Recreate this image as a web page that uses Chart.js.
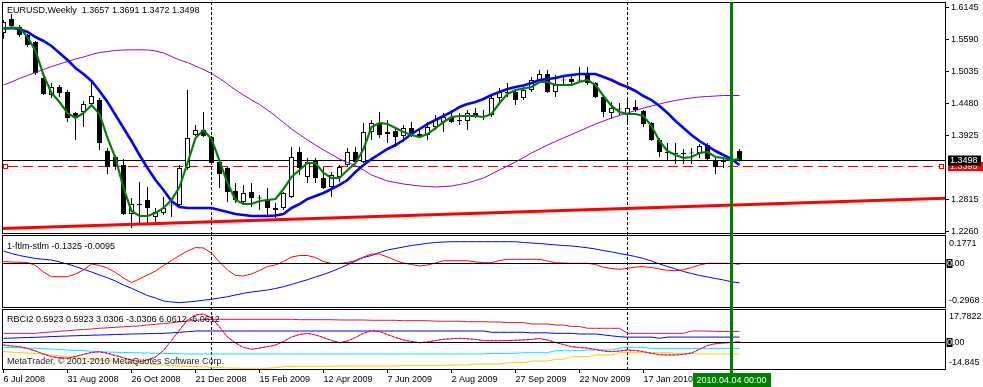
<!DOCTYPE html>
<html>
<head>
<meta charset="utf-8">
<script src="https://cdn.jsdelivr.net/npm/chart.js@4.4.1/dist/chart.umd.min.js"></script>
<style>
  html, body { margin: 0; padding: 0; background: #fff; }
</style>
</head>
<body>
<canvas id="grafica" width="983" height="387"></canvas>
<script>
// EURUSD semanal (captura de MetaTrader) con dos osciladores debajo

const simbolo = 'EURUSD,Weekly';

// Velas semanales, desde la semana del 6 Jul 2008
const aperturas = [
  1.5703, 1.5946, 1.5807, 1.5668, 1.5547, 1.4922, 1.4627, 1.4766, 1.4679, 1.4315,
  1.4333, 1.4471, 1.4541, 1.3656, 1.3552, 1.3413, 1.2564, 1.2737, 1.2806, 1.2512,
  1.2581, 1.2711, 1.2720, 1.3361, 1.3934, 1.4021, 1.3899, 1.3465, 1.3361, 1.2963,
  1.2772, 1.2945, 1.2841, 1.2806, 1.2668, 1.2668, 1.2859, 1.3639, 1.3205, 1.3500,
  1.3188, 1.3032, 1.3205, 1.3413, 1.3639, 1.3465, 1.3986, 1.4142, 1.3951, 1.4003,
  1.3916, 1.4055, 1.3951, 1.3934, 1.4073, 1.4159, 1.4246, 1.4185, 1.4177, 1.4315,
  1.4246, 1.4281, 1.4575, 1.4679, 1.4679, 1.4575, 1.4714, 1.4888, 1.4992, 1.4679,
  1.4888, 1.4905, 1.4879, 1.4974, 1.4836, 1.4593, 1.4315, 1.4385, 1.4281, 1.4419,
  1.4350, 1.4142, 1.3847, 1.3639, 1.3622, 1.3604, 1.3613, 1.3622, 1.3760, 1.3500,
  1.3465, 1.3510, 1.3657
];
const maximos = [
  1.5928, 1.6032, 1.5841, 1.5685, 1.5564, 1.5009, 1.4836, 1.4801, 1.4714, 1.4333,
  1.4523, 1.4853, 1.4575, 1.3708, 1.3587, 1.3517, 1.2841, 1.3119, 1.3032, 1.2668,
  1.2859, 1.2841, 1.3413, 1.4714, 1.4107, 1.4333, 1.3916, 1.3500, 1.3379, 1.3101,
  1.3067, 1.3101, 1.2893, 1.3014, 1.2754, 1.2945, 1.3726, 1.3726, 1.3535, 1.3535,
  1.3379, 1.3292, 1.3413, 1.3708, 1.3726, 1.4142, 1.4194, 1.4333, 1.4194, 1.4038,
  1.4107, 1.4159, 1.4021, 1.4159, 1.4281, 1.4315, 1.4367, 1.4315, 1.4367, 1.4402,
  1.4367, 1.4627, 1.4749, 1.4836, 1.4714, 1.4766, 1.4940, 1.5061, 1.5061, 1.4974,
  1.4974, 1.4992, 1.5113, 1.5113, 1.4853, 1.4627, 1.4506, 1.4489, 1.4575, 1.4541,
  1.4367, 1.4159, 1.3882, 1.3795, 1.3795, 1.3691, 1.3708, 1.3778, 1.3795, 1.3535,
  1.3552, 1.3550, 1.3691
];
const minimos = [
  1.5599, 1.5789, 1.5633, 1.5460, 1.4974, 1.4627, 1.4575, 1.4593, 1.4159, 1.3847,
  1.4072, 1.4454, 1.3674, 1.3257, 1.3327, 1.2546, 1.2321, 1.2408, 1.2408, 1.2425,
  1.2546, 1.2512, 1.2685, 1.3327, 1.3916, 1.3899, 1.3431, 1.3014, 1.2772, 1.2754,
  1.2754, 1.2685, 1.2633, 1.2546, 1.2494, 1.2633, 1.2841, 1.3240, 1.3101, 1.3101,
  1.2997, 1.2859, 1.3119, 1.3379, 1.3448, 1.3448, 1.3847, 1.3882, 1.3795, 1.3726,
  1.3812, 1.3899, 1.3882, 1.3847, 1.4021, 1.3986, 1.4142, 1.4107, 1.4021, 1.4228,
  1.4194, 1.4246, 1.4506, 1.4593, 1.4454, 1.4541, 1.4679, 1.4836, 1.4662, 1.4593,
  1.4801, 1.4818, 1.4836, 1.4801, 1.4575, 1.4246, 1.4211, 1.4281, 1.4159, 1.4333,
  1.4072, 1.3830, 1.3552, 1.3500, 1.3431, 1.3431, 1.3431, 1.3535, 1.3500, 1.3257,
  1.3361, 1.3270, 1.3472
];
const cierres = [
  1.5894, 1.5824, 1.5668, 1.5495, 1.5009, 1.4645, 1.4766, 1.4662, 1.4228, 1.4228,
  1.4471, 1.4610, 1.3795, 1.3379, 1.3396, 1.2564, 1.2737, 1.2720, 1.2668, 1.2598,
  1.2668, 1.2720, 1.3361, 1.3882, 1.4021, 1.3916, 1.3448, 1.3257, 1.2945, 1.2806,
  1.2928, 1.2841, 1.2832, 1.2668, 1.2633, 1.2928, 1.3552, 1.3361, 1.3465, 1.3188,
  1.3014, 1.3240, 1.3379, 1.3639, 1.3465, 1.3986, 1.4142, 1.3934, 1.3986, 1.3899,
  1.4055, 1.3951, 1.3899, 1.4073, 1.4194, 1.4246, 1.4159, 1.4177, 1.4315, 1.4246,
  1.4263, 1.4575, 1.4679, 1.4662, 1.4541, 1.4714, 1.4888, 1.4992, 1.4679, 1.4801,
  1.4879, 1.4853, 1.4888, 1.4836, 1.4593, 1.4333, 1.4402, 1.4376, 1.4402, 1.4367,
  1.4124, 1.3847, 1.3639, 1.3622, 1.3604, 1.3613, 1.3622, 1.3743, 1.3517, 1.3379,
  1.3500, 1.3490, 1.3498
];

// Medias móviles del panel principal
const mediaAzul = [
  1.5781, 1.5789, 1.5772, 1.5720, 1.5633, 1.5564, 1.5477, 1.5356, 1.5234, 1.5096,
  1.4992, 1.4870, 1.4697, 1.4506, 1.4281, 1.4055, 1.3830, 1.3587, 1.3361, 1.3153,
  1.2980, 1.2789, 1.2685, 1.2668, 1.2668, 1.2668, 1.2668, 1.2633, 1.2598, 1.2564,
  1.2546, 1.2529, 1.2529, 1.2529, 1.2538, 1.2564, 1.2668, 1.2737, 1.2824, 1.2876,
  1.2928, 1.2997, 1.3067, 1.3153, 1.3292, 1.3413, 1.3517, 1.3604, 1.3691, 1.3760,
  1.3847, 1.3951, 1.4038, 1.4124, 1.4194, 1.4263, 1.4333, 1.4419, 1.4471, 1.4506,
  1.4558, 1.4627, 1.4679, 1.4731, 1.4766, 1.4792, 1.4836, 1.4888, 1.4905, 1.4922,
  1.4957, 1.4974, 1.4992, 1.4992, 1.4992, 1.4940, 1.4888, 1.4818, 1.4766, 1.4697,
  1.4610, 1.4541, 1.4437, 1.4315, 1.4177, 1.4055, 1.3934, 1.3830, 1.3743, 1.3656,
  1.3587, 1.3517, 1.3413
];
const mediaVerde = [
  1.5772, 1.5795, 1.5789, 1.5633, 1.5391, 1.4974, 1.4662, 1.4506, 1.4315, 1.4228,
  1.4315, 1.4454, 1.4298, 1.3882, 1.3535, 1.3014, 1.2616, 1.2529, 1.2529, 1.2581,
  1.2668, 1.2806, 1.3032, 1.3448, 1.3882, 1.4020, 1.3864, 1.3483, 1.3101, 1.2806,
  1.2737, 1.2737, 1.2789, 1.2806, 1.2824, 1.2997, 1.3205, 1.3327, 1.3448, 1.3448,
  1.3275, 1.3188, 1.3188, 1.3327, 1.3448, 1.3691, 1.4072, 1.4142, 1.4124, 1.4055,
  1.3986, 1.3934, 1.3899, 1.3951, 1.4055, 1.4159, 1.4246, 1.4263, 1.4263, 1.4263,
  1.4246, 1.4298, 1.4489, 1.4645, 1.4714, 1.4740, 1.4766, 1.4853, 1.4853, 1.4801,
  1.4801, 1.4801, 1.4853, 1.4888, 1.4801, 1.4610, 1.4437, 1.4333, 1.4298, 1.4298,
  1.4263, 1.4090, 1.3830, 1.3656, 1.3587, 1.3535, 1.3552, 1.3622, 1.3639, 1.3552,
  1.3535, 1.3500, 1.3517
];
const mediaMorada = [
  1.4801, 1.4853, 1.4914, 1.4966, 1.5018, 1.5070, 1.5122, 1.5165, 1.5208, 1.5252,
  1.5286, 1.5330, 1.5364, 1.5382, 1.5399, 1.5408, 1.5411, 1.5411, 1.5408, 1.5391,
  1.5356, 1.5295, 1.5234, 1.5191, 1.5130, 1.5070, 1.5000, 1.4914, 1.4818, 1.4714,
  1.4627, 1.4541, 1.4463, 1.4367, 1.4263, 1.4151, 1.4038, 1.3942, 1.3847, 1.3760,
  1.3674, 1.3596, 1.3517, 1.3457, 1.3405, 1.3327, 1.3240, 1.3188, 1.3136, 1.3110,
  1.3084, 1.3067, 1.3049, 1.3040, 1.3032, 1.3040, 1.3049, 1.3075, 1.3101, 1.3145,
  1.3188, 1.3257, 1.3327, 1.3396, 1.3465, 1.3543, 1.3622, 1.3691, 1.3760, 1.3821,
  1.3882, 1.3942, 1.4003, 1.4064, 1.4124, 1.4177, 1.4228, 1.4272, 1.4315, 1.4359,
  1.4402, 1.4437, 1.4471, 1.4506, 1.4532, 1.4558, 1.4575, 1.4593, 1.4601, 1.4610,
  1.4619, 1.4619, 1.4619
];

// Línea de tendencia roja (dos puntos fuera de los bordes) y nivel horizontal
const tendenciaIdx = [-1, 118];
const tendenciaPrecio = [1.2310, 1.2838];
const nivelRojo = 1.3395;

// Panel 1-ftlm-stlm
const ftlmRojo = [
  0.0087, 0.0067, 0.0047, 0.0033, -0.0167, -0.0600, -0.0913, -0.0913, -0.0913, -0.0733,
  -0.0467, -0.0067, -0.0167, -0.0333, -0.0633, -0.1000, -0.1300, -0.1067, -0.0800, -0.0533,
  -0.0167, 0.0167, 0.0500, 0.0800, 0.1033, 0.1000, 0.0667, 0.0067, -0.0467, -0.0833,
  -0.0867, -0.0733, -0.0500, -0.0233, -0.0133, 0.0100, 0.0400, 0.0500, 0.0500, 0.0367,
  0.0100, -0.0033, -0.0033, 0.0033, 0.0167, 0.0400, 0.0600, 0.0600, 0.0400, 0.0167,
  0.0000, -0.0100, -0.0200, -0.0133, 0.0000, 0.0153, 0.0153, 0.0153, 0.0153, 0.0067,
  0.0020, 0.0020, 0.0167, 0.0247, 0.0247, 0.0247, 0.0247, 0.0247, 0.0133, 0.0020,
  0.0000, -0.0020, -0.0020, -0.0020, -0.0100, -0.0287, -0.0367, -0.0420, -0.0353, -0.0267,
  -0.0247, -0.0300, -0.0400, -0.0487, -0.0513, -0.0447, -0.0300, -0.0133, -0.0020, -0.0020,
  -0.0020, -0.0020, -0.0095
];
const ftlmAzul = [
  0.0800, 0.0633, 0.0500, 0.0400, 0.0300, 0.0247, 0.0200, 0.0067, -0.0067, -0.0233,
  -0.0420, -0.0600, -0.0800, -0.0987, -0.1200, -0.1467, -0.1687, -0.1933, -0.2167, -0.2333,
  -0.2533, -0.2600, -0.2647, -0.2600, -0.2547, -0.2480, -0.2420, -0.2333, -0.2247, -0.2133,
  -0.2020, -0.1933, -0.1867, -0.1800, -0.1700, -0.1580, -0.1433, -0.1267, -0.1113, -0.0933,
  -0.0767, -0.0567, -0.0353, -0.0113, 0.0133, 0.0367, 0.0500, 0.0700, 0.0867, 0.0967,
  0.1067, 0.1167, 0.1233, 0.1313, 0.1367, 0.1400, 0.1420, 0.1420, 0.1420, 0.1420,
  0.1420, 0.1420, 0.1420, 0.1420, 0.1420, 0.1367, 0.1333, 0.1300, 0.1253, 0.1207,
  0.1167, 0.1133, 0.1080, 0.1013, 0.0933, 0.0827, 0.0740, 0.0633, 0.0533, 0.0433,
  0.0300, 0.0133, -0.0067, -0.0233, -0.0400, -0.0567, -0.0700, -0.0833, -0.0933, -0.1033,
  -0.1133, -0.1253, -0.1325
];
const ftlmEtiquetas = ['0.1771', '0.00', '-0.2968'];

// Panel RBCI2: valor y bandas
const rbciValor = [
  -1.20, -1.74, -2.11, -3.07, -4.41, -6.02, -7.46, -8.00, -8.26, -7.35,
  -6.18, -5.21, -4.84, -5.64, -6.82, -8.05, -9.22, -10.13, -9.22, -7.62,
  -4.14, 1.20, 6.82, 12.17, 14.84, 15.37, 13.24, 8.42, 3.07, -0.13,
  -2.54, -3.50, -2.81, -2.11, -1.20, 0.67, 3.07, 4.41, 5.05, 4.14,
  2.81, 1.20, 0.03, 0.94, 2.81, 5.05, 6.44, 6.02, 4.41, 2.81,
  1.47, 0.67, 0.03, 0.40, 1.20, 1.84, 2.17, 2.38, 2.17, 1.74,
  1.20, 1.10, 1.10, 1.20, 1.31, 1.47, 1.74, 2.27, 1.47, 0.13,
  -0.94, -2.11, -2.54, -2.91, -3.61, -4.41, -4.79, -4.41, -3.88, -4.14,
  -4.79, -5.64, -6.39, -6.55, -6.55, -6.18, -5.48, -3.50, -1.47, -0.51,
  -0.13, 0.13, 0.5923
];
const rbciSup2 = [
  5.05, 5.05, 5.05, 5.05, 5.05, 5.48, 5.75, 6.18, 6.44, 6.82,
  7.09, 7.35, 7.73, 8.00, 8.26, 8.53, 8.80, 8.96, 9.49, 9.87,
  10.24, 10.72, 11.20, 11.63, 11.90, 12.43, 12.54, 12.54, 12.54, 12.54,
  12.54, 12.54, 12.54, 12.54, 12.54, 12.54, 12.54, 12.33, 12.33, 12.33,
  12.33, 12.33, 12.17, 12.17, 12.17, 12.17, 12.00, 12.00, 12.00, 12.00,
  11.79, 11.79, 11.79, 11.79, 11.52, 11.52, 11.52, 11.52, 11.26, 11.26,
  11.26, 11.10, 11.10, 10.75, 10.75, 10.75, 10.03, 10.03, 10.03, 9.49,
  9.49, 8.69, 8.69, 7.73, 7.73, 7.73, 7.73, 7.73, 5.05, 5.05,
  5.05, 5.05, 5.05, 5.05, 5.05, 5.05, 6.28, 6.28, 6.28, 6.06,
  6.06, 6.06, 6.0612
];
const rbciSup1 = [
  2.38, 2.50, 2.65, 2.80, 2.91, 3.10, 3.30, 3.45, 3.61, 3.75,
  3.90, 4.00, 4.14, 4.25, 4.40, 4.55, 4.68, 4.75, 4.85, 4.95,
  5.05, 5.30, 5.59, 5.90, 6.28, 6.28, 6.28, 6.28, 6.28, 6.28,
  6.28, 6.28, 6.28, 6.28, 6.28, 6.28, 6.28, 6.28, 6.28, 6.28,
  6.28, 6.28, 6.28, 6.28, 6.28, 6.28, 6.28, 6.28, 6.28, 6.28,
  6.28, 6.28, 6.28, 6.28, 6.28, 6.28, 6.28, 6.28, 6.28, 6.28,
  6.28, 5.59, 5.59, 5.59, 5.59, 5.59, 5.30, 5.30, 5.30, 5.05,
  5.05, 5.05, 4.68, 4.68, 4.68, 4.20, 3.70, 3.24, 3.00, 3.00,
  3.00, 3.00, 2.38, 3.03, 3.03, 3.03, 3.03, 3.03, 3.03, 3.03,
  3.03, 3.03, 3.0306
];
const rbciInf1 = [
  -2.43, -2.55, -2.70, -2.85, -2.97, -3.20, -3.40, -3.60, -3.88, -4.10,
  -4.30, -4.55, -4.79, -4.95, -5.10, -5.20, -5.32, -5.40, -5.50, -5.58,
  -5.64, -5.80, -5.90, -6.00, -6.02, -6.02, -6.02, -6.02, -6.02, -6.02,
  -6.02, -6.02, -6.02, -6.02, -6.02, -6.02, -6.02, -6.02, -6.02, -6.02,
  -6.02, -6.02, -6.02, -6.02, -6.02, -6.02, -6.02, -6.02, -6.02, -6.02,
  -6.02, -6.02, -6.02, -6.02, -6.02, -6.02, -6.02, -6.02, -6.02, -6.02,
  -6.02, -5.64, -5.64, -5.64, -5.64, -5.32, -5.32, -5.32, -5.32, -4.25,
  -4.25, -4.25, -4.25, -3.88, -3.88, -3.88, -3.88, -2.97, -2.43, -2.43,
  -2.43, -3.03, -3.03, -3.03, -3.03, -3.03, -3.03, -3.03, -3.03, -3.03,
  -3.03, -3.03, -3.0306
];
const rbciInf2 = [
  -4.79, -5.00, -5.30, -5.50, -5.64, -6.10, -6.60, -7.00, -7.46, -7.90,
  -8.40, -8.80, -9.22, -9.60, -10.00, -10.30, -10.67, -11.00, -11.30, -11.60,
  -11.90, -12.20, -12.50, -12.70, -12.81, -12.90, -13.10, -13.30, -13.45, -13.60,
  -13.66, -13.66, -13.66, -13.66, -13.30, -12.81, -12.60, -12.60, -12.60, -12.60,
  -12.60, -12.60, -12.43, -12.43, -12.43, -12.43, -12.43, -12.43, -12.43, -12.43,
  -12.10, -12.10, -12.10, -12.10, -12.10, -12.10, -11.90, -11.90, -11.90, -11.36,
  -11.36, -11.36, -11.36, -10.67, -10.67, -10.67, -9.80, -9.80, -9.80, -8.85,
  -8.85, -7.46, -7.46, -7.46, -6.50, -6.50, -6.50, -5.32, -5.32, -5.32,
  -5.32, -5.32, -5.32, -5.32, -5.64, -5.64, -5.64, -6.06, -6.06, -6.06,
  -6.06, -6.06, -6.0612
];
const rbciEtiquetas = ['17.7822', '0.00', '-14.845'];

// Eje de tiempo y precios
const fechasIdx = [0, 8, 16, 24, 32, 40, 48, 56, 64, 72, 80];
const fechas = ['6 Jul 2008', '31 Aug 2008', '26 Oct 2008', '21 Dec 2008', '15 Feb 2009',
  '12 Apr 2009', '7 Jun 2009', '2 Aug 2009', '27 Sep 2009', '22 Nov 2009', '17 Jan 2010'];
const marcaIdx = 91;
const marcaTexto = '2010.04.04 00:00';
const separadoresIdx = [26, 78];
const preciosEje = [1.6145, 1.5590, 1.5035, 1.4480, 1.3925, 1.2815, 1.2260];

// Fuente parecida a Tahoma 8
function elegirFuente() {
  const c = document.createElement('canvas').getContext('2d');
  c.font = '11px monospace';
  const base = c.measureText('1.6145 Jul').width;
  c.font = '11px "Liberation Sans Narrow", monospace';
  const estrecha = c.measureText('1.6145 Jul').width;
  if (base !== estrecha) return { family: '"Liberation Sans Narrow"', size: 11 };
  return { family: '"Liberation Sans"', size: 9 };
}
const fuente = elegirFuente();
const fuenteCss = fuente.size + 'px ' + fuente.family;
Chart.defaults.font.family = fuente.family;
Chart.defaults.font.size = fuente.size;

const n = cierres.length - 1;
const idx = cierres.map((_, i) => i);
const serie = (valores) => valores.map((v, i) => ({ x: i, y: v }));

// Dibujos extra al estilo MetaTrader
const decoracion = {
  id: 'decoracion',
  beforeDatasetsDraw(chart) {
    const { ctx, chartArea: area, scales } = chart;
    const x = scales.x, y = scales.y;
    ctx.save();
    ctx.lineWidth = 1;
    ctx.strokeStyle = '#000';
    ctx.setLineDash([3, 2]);
    for (const i of separadoresIdx) {
      const px = Math.floor(x.getPixelForValue(i)) + 0.5;
      ctx.beginPath();
      ctx.moveTo(px, area.top);
      ctx.lineTo(px, area.bottom);
      ctx.stroke();
    }
    ctx.setLineDash([]);
    const yBid = Math.floor(y.getPixelForValue(cierres[n])) + 0.5;
    ctx.beginPath();
    ctx.moveTo(area.left, yBid);
    ctx.lineTo(area.right, yBid);
    ctx.stroke();

    const yRojo = Math.floor(y.getPixelForValue(nivelRojo)) + 0.5;
    ctx.strokeStyle = '#ff0000';
    ctx.setLineDash([10, 5]);
    ctx.beginPath();
    ctx.moveTo(area.left + 6, yRojo);
    ctx.lineTo(area.right - 6, yRojo);
    ctx.stroke();
    ctx.setLineDash([]);
    ctx.fillStyle = '#fff';
    for (const px of [area.left + 1.5, area.right - 5.5]) {
      ctx.fillRect(px, yRojo - 2, 4, 4);
      ctx.strokeRect(px, yRojo - 2, 4, 4);
    }
    ctx.restore();
  },
  afterDatasetsDraw(chart) {
    const { ctx, chartArea: area, scales } = chart;
    ctx.save();
    ctx.strokeStyle = '#000';
    ctx.lineWidth = 1;
    for (const id of ['y2', 'y3']) {
      const py = Math.floor(scales[id].getPixelForValue(0)) + 0.5;
      ctx.beginPath();
      ctx.moveTo(area.left, py);
      ctx.lineTo(area.right, py);
      ctx.stroke();
    }
    ctx.restore();
  },
  afterDraw(chart) {
    const { ctx, chartArea: area, scales } = chart;
    const x = scales.x, y = scales.y, y2 = scales.y2, y3 = scales.y3;
    ctx.save();
    ctx.strokeStyle = '#000';
    ctx.lineWidth = 1;
    // marcos de los tres paneles
    const marcos = [[y.top, y.bottom - 2], [y2.top, y2.bottom - 1], [y3.top + 1, y3.bottom - 1]];
    for (const [t, b] of marcos) {
      ctx.strokeRect(area.left + 0.5, t + 0.5, area.right - area.left, b - t);
    }

    // línea vertical verde y su etiqueta
    const gx = Math.floor(x.getPixelForValue(marcaIdx)) + 0.5;
    ctx.fillStyle = '#008000';
    ctx.fillRect(gx - 1.5, area.top, 3, area.bottom + 3 - area.top);
    ctx.font = fuenteCss;
    const w = Math.round(ctx.measureText(marcaTexto).width + 8);
    ctx.fillRect(Math.round(gx - w / 2), area.bottom + 3, w, 14);
    ctx.fillStyle = '#fff';
    ctx.textAlign = 'center';
    ctx.textBaseline = 'middle';
    ctx.fillText(marcaTexto, gx, area.bottom + 10.5);

    // textos de cada panel
    ctx.textAlign = 'left';
    ctx.fillStyle = '#000';
    const ohlc = [aperturas[n], maximos[n], minimos[n], cierres[n]].map(v => v.toFixed(4)).join(' ');
    ctx.fillText(simbolo + '  ' + ohlc, 7, 11);
    ctx.fillText('1-ftlm-stlm ' + ftlmAzul[n].toFixed(4) + ' ' + ftlmRojo[n].toFixed(4), 7, y2.top + 11.5);
    const rbci = [rbciValor[n], rbciValor[n], rbciSup1[n], rbciInf1[n], rbciSup2[n], rbciInf2[n]];
    ctx.fillText('RBCI2 ' + rbci.map(v => v.toFixed(4)).join(' '), 7, y3.top + 12);
    ctx.fillStyle = '#222';
    ctx.fillText('MetaTrader, \u00a9 2001-2010 MetaQuotes Software Corp.', 7, y3.bottom - 8);

    // etiquetas de precio a la derecha
    const yRojo = Math.floor(y.getPixelForValue(nivelRojo)) + 0.5;
    ctx.fillStyle = '#ff0000';
    ctx.fillRect(area.right + 3, yRojo - 4.5, 35, 9);
    ctx.fillStyle = '#fff';
    ctx.fillText(nivelRojo.toFixed(4), area.right + 5, yRojo);
    const yBid = Math.floor(y.getPixelForValue(cierres[n])) + 0.5;
    ctx.fillStyle = '#000';
    ctx.fillRect(area.right + 3, yBid - 5, 33, 10);
    ctx.fillStyle = '#fff';
    ctx.fillText(cierres[n].toFixed(4), area.right + 5, yBid);

    // escalas de los osciladores
    const escala = (s, textos) => {
      ctx.fillStyle = '#000';
      ctx.fillText(textos[0], area.right + 4, s.top + 9);
      ctx.fillText(textos[2], area.right + 4, s.bottom - 7);
      const y0 = Math.floor(s.getPixelForValue(0)) + 0.5;
      const caja = [area.right + 1.5, y0 - 4.5, 6, 9];
      ctx.fillRect(...caja);
      ctx.fillText(textos[1], area.right + 2, y0);
      ctx.save();
      ctx.beginPath();
      ctx.rect(...caja);
      ctx.clip();
      ctx.fillStyle = '#fff';
      ctx.fillText(textos[1], area.right + 2, y0);
      ctx.restore();
    };
    escala(y2, ftlmEtiquetas);
    escala(y3, rbciEtiquetas);
    ctx.restore();
  }
};

const colorCuerpo = cierres.map((c, i) => (c - aperturas[i] > 0.0012 ? '#ffffff' : '#000000'));
const linea = (datos, color, ancho, eje, orden, extra) => Object.assign({
  type: 'line',
  data: serie(datos),
  borderColor: color,
  borderWidth: ancho,
  pointRadius: 0,
  tension: 0,
  yAxisID: eje,
  order: orden
}, extra || {});

const ajustarY = (s) => { s.width = 38; s.paddingTop = 0; s.paddingBottom = 0; };

new Chart(document.getElementById('grafica'), {
  type: 'bar',
  data: {
    datasets: [
      {
        data: idx.map(i => ({ x: i, y: [minimos[i], maximos[i]] })),
        backgroundColor: '#000',
        borderWidth: 0,
        barThickness: 1,
        grouped: false,
        inflateAmount: 0,
        yAxisID: 'y',
        order: 20
      },
      {
        data: idx.map(i => ({ x: i, y: [aperturas[i], cierres[i]] })),
        backgroundColor: colorCuerpo,
        borderColor: '#000',
        borderWidth: 1,
        borderSkipped: false,
        barThickness: 5,
        minBarLength: 1,
        grouped: false,
        inflateAmount: 0,
        yAxisID: 'y',
        order: 19
      },
      linea(mediaMorada, '#9400d3', 1, 'y', 15),
      {
        type: 'line',
        data: tendenciaIdx.map((v, i) => ({ x: v, y: tendenciaPrecio[i] })),
        borderColor: '#ff0000',
        borderWidth: 3,
        pointRadius: 0,
        yAxisID: 'y',
        order: 14
      },
      linea(mediaAzul, '#0000ff', 2.6, 'y', 12),
      linea(mediaVerde, '#008000', 2.2, 'y', 11),
      linea(ftlmAzul, '#0000ff', 1, 'y2', 10),
      linea(ftlmRojo, '#ff0000', 1, 'y2', 9),
      linea(rbciSup2, '#dc143c', 1, 'y3', 8),
      linea(rbciSup1, '#0000ff', 1, 'y3', 7),
      linea(rbciInf1, '#00e5ff', 1, 'y3', 6),
      linea(rbciInf2, '#ffc800', 1, 'y3', 5),
      linea(rbciValor, '#e020c0', 1, 'y3', 4),
      linea(rbciValor, '#ff0000', 1, 'y3', 3, { borderDash: [2, 2] })
    ]
  },
  options: {
    responsive: false,
    animation: false,
    events: [],
    layout: { padding: { top: 2, left: 2, right: 0, bottom: 0 } },
    plugins: { legend: { display: false }, tooltip: { enabled: false } },
    scales: {
      x: {
        type: 'linear',
        min: -0.1875,
        max: 117.6875,
        offset: false,
        grid: { offset: false, drawOnChartArea: false, drawTicks: true, tickLength: 3, color: '#000' },
        border: { display: false },
        ticks: {
          align: 'start',
          autoSkip: false,
          maxRotation: 0,
          padding: 1,
          color: '#000',
          callback: (v, i) => fechas[i]
        },
        afterBuildTicks: (s) => { s.ticks = fechasIdx.map(v => ({ value: v })); },
        afterFit: (s) => { s.height = 17; s.paddingLeft = 0; s.paddingRight = 0; }
      },
      y: {
        type: 'linear',
        position: 'right',
        stack: 'paneles',
        stackWeight: 233,
        min: 1.21995,
        max: 1.62404,
        grid: { drawOnChartArea: false, drawTicks: true, tickLength: 4, color: '#000' },
        border: { display: false },
        ticks: { padding: 2, color: '#000', callback: (v) => v.toFixed(4) },
        afterBuildTicks: (s) => { s.ticks = preciosEje.map(v => ({ value: v })); },
        afterFit: ajustarY
      },
      y2: {
        type: 'linear',
        position: 'right',
        stack: 'paneles',
        stackWeight: 73,
        min: -0.3,
        max: 0.18667,
        grid: { display: false },
        border: { display: false },
        ticks: { display: false },
        afterFit: ajustarY
      },
      y3: {
        type: 'linear',
        position: 'right',
        stack: 'paneles',
        stackWeight: 62,
        min: -14.572,
        max: 18.583,
        grid: { display: false },
        border: { display: false },
        ticks: { display: false },
        afterFit: ajustarY
      }
    }
  },
  plugins: [decoracion]
});
</script>
</body>
</html>
